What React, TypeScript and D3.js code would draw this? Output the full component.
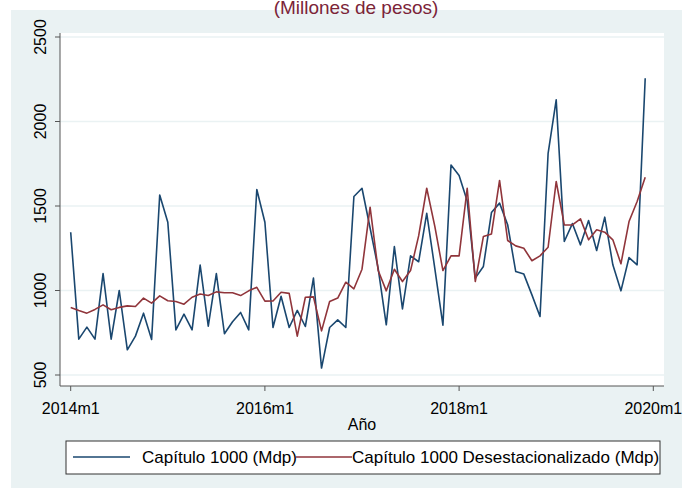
import React from "react";
import * as d3 from "d3";

const W = 683;
const H = 488;

// Monthly series 2014m1 .. 2019m12
const capitulo1000: number[] = [
  1345, 712, 783, 712, 1100, 712, 1000, 649, 730, 866, 710, 1565,
  1404, 767, 860, 767, 1150, 789, 1100, 744, 815, 870, 767, 1598,
  1404, 781, 966, 781, 882, 787, 1073, 541, 781, 826, 781, 1556,
  1605, 1370, 1130, 797, 1260, 891, 1205, 1170, 1457, 1130, 795, 1743,
  1680, 1530, 1073, 1142, 1461, 1517, 1389, 1112, 1097, 974, 846, 1812,
  2128, 1290, 1396, 1270, 1414, 1237, 1434, 1152, 998, 1195, 1152, 2256,
];

const desestacionalizado: number[] = [
  899, 881, 866, 888, 915, 886, 900, 909, 905, 955, 925, 968,
  939, 935, 919, 960, 979, 970, 992, 987, 987, 970, 998, 1019,
  937, 938, 990, 983, 730, 960, 962, 761, 935, 955, 1049, 1010,
  1126, 1493, 1118, 998, 1126, 1053, 1118, 1323, 1605, 1379, 1118, 1205,
  1205, 1605, 1053, 1319, 1335, 1651, 1296, 1264, 1250, 1176, 1205, 1256,
  1645, 1388, 1388, 1424, 1300, 1359, 1345, 1300, 1158, 1408, 1527, 1670,
];

const yTicks: number[] = [500, 1000, 1500, 2000, 2500];
const xTickMonths: number[] = [0, 24, 48, 72];
const xTickLabels: string[] = ["2014m1", "2016m1", "2018m1", "2020m1"];
const seriesNames: string[] = [
  "Capítulo 1000 (Mdp)",
  "Capítulo 1000 Desestacionalizado (Mdp)",
];
const titleText = "(Millones de pesos)";
const xAxisTitle = "Año";

const BLUE = "#1a476f";
const RED = "#90353b";
const BG = "#eaf2f3";
const FONT = "Liberation Sans, Arial, sans-serif";

export default function App() {
  const x = d3.scaleLinear().domain([0, 72]).range([70.7, 653.3]);
  const y = d3.scaleLinear().domain([500, 2500]).range([375, 37]);

  const line = d3
    .line<number>()
    .x((_, i) => x(i))
    .y((d) => y(d));

  const plotLeft = 60;
  const plotRight = 664;
  const plotTop = 33;
  const plotBottom = 386;

  return (
    <svg
      width={W}
      height={H}
      style={{ position: "absolute", left: 0, top: 0 }}
      fontFamily={FONT}
    >
      <rect x={0} y={0} width={W} height={H} fill="#ffffff" />
      <rect x={11} y={10} width={671} height={478} fill={BG} />
      <text
        x={356}
        y={14}
        textAnchor="middle"
        fontSize={19}
        fill="#7b2438"
      >
        {titleText}
      </text>
      <rect
        x={plotLeft}
        y={plotTop}
        width={plotRight - plotLeft}
        height={plotBottom - plotTop}
        fill="#ffffff"
      />
      {yTicks.map((t) => (
        <line
          key={"g" + t}
          x1={plotLeft}
          x2={plotRight}
          y1={y(t)}
          y2={y(t)}
          stroke={BG}
          strokeWidth={1.5}
        />
      ))}
      {/* axes */}
      <line x1={plotLeft} x2={plotLeft} y1={plotTop} y2={plotBottom} stroke="#555" strokeWidth={1} />
      <line x1={plotLeft} x2={plotRight} y1={plotBottom} y2={plotBottom} stroke="#555" strokeWidth={1} />
      {yTicks.map((t) => (
        <g key={"yt" + t}>
          <line x1={plotLeft - 5} x2={plotLeft} y1={y(t)} y2={y(t)} stroke="#555" />
          <text
            transform={`translate(46,${y(t)}) rotate(-90)`}
            textAnchor="middle"
            fontSize={16}
            fill="#000"
          >
            {t}
          </text>
        </g>
      ))}
      {xTickMonths.map((m, i) => (
        <g key={"xt" + m}>
          <line x1={x(m)} x2={x(m)} y1={plotBottom} y2={plotBottom + 5} stroke="#555" />
          <text x={x(m)} y={414} textAnchor="middle" fontSize={16} fill="#000">
            {xTickLabels[i]}
          </text>
        </g>
      ))}
      <text x={362} y={430} textAnchor="middle" fontSize={16} fill="#000">
        {xAxisTitle}
      </text>
      <path d={line(capitulo1000) || ""} fill="none" stroke={BLUE} strokeWidth={1.6} strokeLinejoin="round" />
      <path d={line(desestacionalizado) || ""} fill="none" stroke={RED} strokeWidth={1.6} strokeLinejoin="round" />
      {/* legend */}
      <rect x={66} y={441} width={594} height={33} fill="#ffffff" stroke="#333" strokeWidth={1} />
      <line x1={73} x2={130} y1={457} y2={457} stroke={BLUE} strokeWidth={1.6} />
      <text x={142} y={463} fontSize={17} fill="#000">
        {seriesNames[0]}
      </text>
      <line x1={296} x2={352} y1={457} y2={457} stroke={RED} strokeWidth={1.6} />
      <text x={352} y={463} fontSize={17} fill="#000">
        {seriesNames[1]}
      </text>
    </svg>
  );
}
